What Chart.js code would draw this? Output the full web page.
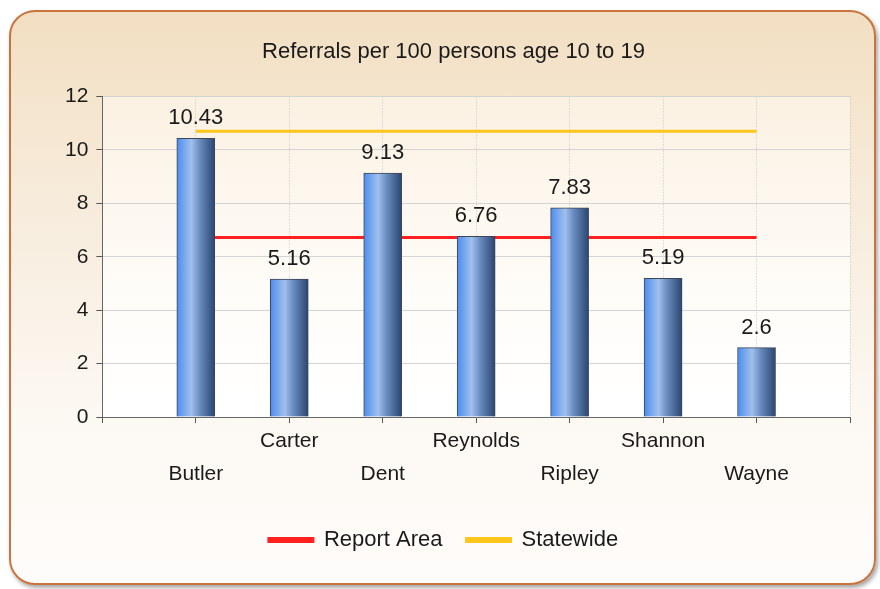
<!DOCTYPE html>
<html><head><meta charset="utf-8">
<script src="https://cdn.jsdelivr.net/npm/chart.js@4"></script>
<style>
html,body{margin:0;padding:0;background:#fff;}
#frame{position:absolute;left:9px;top:10px;width:867px;height:575px;border:2px solid #c9733f;border-radius:26px;
background:linear-gradient(to bottom,#f2dfc2 0%,#f7ecdc 35%,#fcf8f2 70%,#fefcfa 100%);box-shadow:2px 3px 4px rgba(0,0,0,0.35);box-sizing:border-box;}
#wrap{position:absolute;left:0;top:0;width:880px;height:589px;}
</style></head>
<body>
<div id="frame"></div>
<div id="wrap"><canvas id="c" width="880" height="589"></canvas></div>
<script>
const categories = ['Butler','Carter','Dent','Reynolds','Ripley','Shannon','Wayne'];
const rateValues = [10.43, 5.16, 9.13, 6.76, 7.83, 5.19, 2.6];
const reportArea = 6.72;
const statewide = 10.70;
const yTicks = [0,2,4,6,8,10,12];

const labels = [''].concat(categories).concat(['']);
const barData = [null].concat(rateValues).concat([null]);
const reportData = [null].concat(categories.map(() => reportArea)).concat([null]);
const stateData = [null].concat(categories.map(() => statewide)).concat([null]);

const FONT = 'Liberation Sans';
const BAR_W = 38;

function barGradient(ctx) {
  const chart = ctx.chart;
  const xs = chart.scales && chart.scales.x;
  if (!xs || ctx.dataIndex === undefined) return '#5b8ad6';
  const cx = xs.getPixelForValue(ctx.dataIndex);
  if (!isFinite(cx)) return '#5b8ad6';
  const g = chart.ctx.createLinearGradient(cx - BAR_W/2, 0, cx + BAR_W/2, 0);
  g.addColorStop(0, '#4b8cf0');
  g.addColorStop(0.38, '#a0c0ec');
  g.addColorStop(0.6, '#6a8cc0');
  g.addColorStop(1, '#2a4670');
  return g;
}

const bgPlugin = {
  id: 'plotBg',
  afterLayout(chart) {
    if (chart.legend) { chart.legend.left -= 10; chart.legend.right -= 10; }
  },
  beforeDraw(chart) {
    const {ctx, chartArea: a} = chart;
    const g = ctx.createLinearGradient(0, a.top, 0, a.bottom);
    g.addColorStop(0, '#fbf1e2');
    g.addColorStop(0.6, '#fefcf8');
    g.addColorStop(1, '#ffffff');
    ctx.save();
    ctx.fillStyle = g;
    ctx.fillRect(a.left, a.top, a.right - a.left, a.bottom - a.top);
    ctx.restore();
  }
};

const valuePlugin = {
  id: 'values',
  afterDatasetsDraw(chart) {
    const meta = chart.getDatasetMeta(0);
    const ctx = chart.ctx;
    ctx.save();
    ctx.font = '22px "' + FONT + '"';
    ctx.fillStyle = '#1a1a1a';
    ctx.textAlign = 'center';
    ctx.textBaseline = 'bottom';
    meta.data.forEach((el, i) => {
      const v = chart.data.datasets[0].data[i];
      if (v === null) return;
      ctx.fillText(String(v), el.x, el.y - 9);
    });
    ctx.restore();
  }
};

new Chart(document.getElementById('c'), {
  data: {
    labels: labels,
    datasets: [
      {type:'bar', label:'Rate', data: barData, backgroundColor: barGradient, borderColor:'#3c4656', borderWidth:1, barThickness: BAR_W, order: 0},
      {type:'line', label:'Report Area', data: reportData, borderColor:'#ff2020', backgroundColor:'#ff2020', borderWidth:3, pointRadius:0, order: 1},
      {type:'line', label:'Statewide', data: stateData, borderColor:'#ffc61a', backgroundColor:'#ffc61a', borderWidth:3, pointRadius:0, order: 2}
    ]
  },
  options: {
    responsive: false,
    animation: false,
    layout: {padding: {left: 57, right: 30, top: 39, bottom: 28}},
    plugins: {
      title: {display:true, text:'Referrals per 100 persons age 10 to 19', color:'#1a1a1a', font:{family:FONT, size:22, weight:'normal'}, padding:{top:0, bottom:31}},
      legend: {position:'bottom',
        labels: {sort:(a,b)=>a.datasetIndex-b.datasetIndex, filter: (it) => it.text !== 'Rate', boxWidth:44, boxHeight:3, color:'#1a1a1a', font:{family:FONT, size:22}, padding: 24}},
      tooltip: {enabled:false}
    },
    scales: {
      x: {
        type:'category', offset:false,
        afterFit: (s) => { s.height += 12; },
        grid: {offset:false, color:(c)=> c.index===0 ? 'rgba(0,0,0,0)' : '#c4c4c4', lineWidth:1, drawTicks:true, tickLength:6, tickColor:'#555', tickBorderDash:[]},
        border: {display:true, color:'#666', width:1, dash:[1,2]},
        ticks: {color:'#1a1a1a', font:{family:FONT, size:21, lineHeight:1.571}, maxRotation:0, autoSkip:false, padding:2,
          callback: function(val, i){ const l = this.getLabelForValue(val); if (!l) return ''; return (i % 2 === 1) ? ['', l] : [l, '']; }}
      },
      y: {
        min:0, max:12,
        afterBuildTicks: (s) => { s.ticks = yTicks.map(v => ({value:v})); },
        grid: {color:'#d4d4d4', lineWidth:1, drawTicks:true, tickLength:6, tickColor:'#555'},
        border: {display:true, color:'#666', width:1},
        ticks: {color:'#1a1a1a', font:{family:FONT, size:21}, padding:8}
      }
    }
  },
  plugins: [bgPlugin, valuePlugin]
});
</script>
</body></html>
